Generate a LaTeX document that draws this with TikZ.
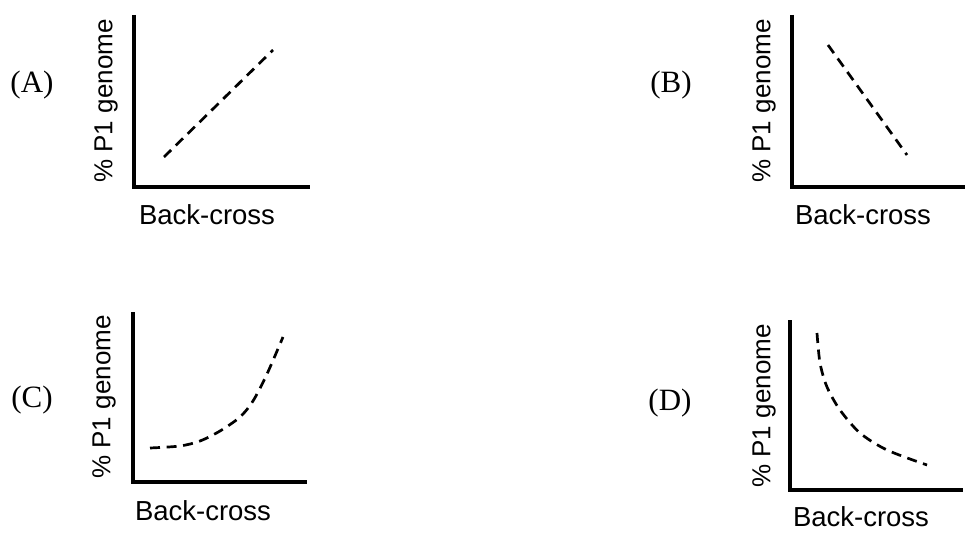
\documentclass[tikz,border=0pt]{standalone}
\usepackage{fontspec}
\setmainfont{Liberation Serif}
\newfontfamily\arial{Liberation Sans}
\begin{document}
\begin{tikzpicture}[x=1pt,y=-1pt,
  axis/.style={line width=4pt,line join=miter},
  curve/.style={line width=2.7pt,dash pattern=on 10pt off 6.6pt},
  panel/.style={font=\fontsize{31}{31}\selectfont},
  ylab/.style={font=\arial\fontsize{26}{26}\selectfont,rotate=90},
  xlab/.style={font=\arial\fontsize{27.5}{27.5}\selectfont}]
\useasboundingbox (0,0) rectangle (969,540);
% Panel A
\coordinate (Atop) at (134,15);
\coordinate (Ao) at (134,187);
\coordinate (Ar) at (310,187);
\draw[axis] (Atop) -- (Ao) -- (Ar);
\coordinate (A1) at (164,157);
\coordinate (A2) at (273,50);
\draw[curve] (A1) -- (A2);
\node[panel] (la) at (32,85) {(A)};
\node[ylab] (ya) at (106,101) {\% P1 genome};
\node[xlab] (xa) at (207,215) {Back-cross};
% Panel B
\coordinate (Btop) at (792,15);
\coordinate (Bo) at (792,187);
\coordinate (Br) at (965,187);
\draw[axis] (Btop) -- (Bo) -- (Br);
\coordinate (B1) at (828,45);
\coordinate (B2) at (907,155);
\draw[curve] (B1) -- (B2);
\node[panel] (lb) at (671,85) {(B)};
\node[ylab] (yb) at (764,101) {\% P1 genome};
\node[xlab] (xb) at (863,215) {Back-cross};
% Panel C
\coordinate (Ctop) at (133,312);
\coordinate (Co) at (133,482);
\coordinate (Cr) at (307,482);
\draw[axis] (Ctop) -- (Co) -- (Cr);
\draw[curve] plot[smooth] coordinates {(150,448) (180,446) (200,441) (220,431) (240,417) (253,401) (267,374) (283,337)};
\node[panel] (lc) at (32,400) {(C)};
\node[ylab] (yc) at (104,397) {\% P1 genome};
\node[xlab] (xc) at (203,511) {Back-cross};
% Panel D
\coordinate (Dtop) at (790,320);
\coordinate (Do) at (790,490);
\coordinate (Dr) at (963,490);
\draw[axis] (Dtop) -- (Do) -- (Dr);
\draw[curve] plot[smooth] coordinates {(817,333) (820,363) (827,387) (840,410) (860,433) (887,450) (927,465)};
\node[panel] (ld) at (670,403) {(D)};
\node[ylab] (yd) at (764,406) {\% P1 genome};
\node[xlab] (xd) at (861,517) {Back-cross};
\end{tikzpicture}
\end{document}
